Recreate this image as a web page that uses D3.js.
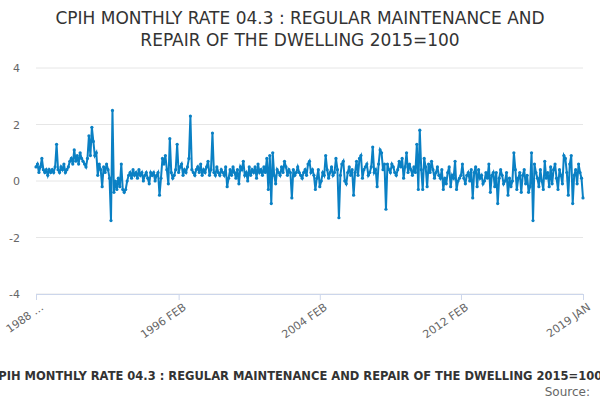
<!DOCTYPE html>
<html>
<head>
<meta charset="utf-8">
<script src="https://cdn.jsdelivr.net/npm/d3@7"></script>
<style>
  body { margin: 0; background: #fff; font-family: "DejaVu Sans", sans-serif; }
</style>
</head>
<body>
<div id="chart"></div>
<script>
// Giá trị theo tháng, từ 1988 JAN đến 2019 JAN
const startYear = 1988;
const values = [
  0.5,0.6,0.3,0.5,0.8,0.4,0.3,0.4,0.2,0.4,0.3,0.4,
  0.3,0.5,1.3,0.4,0.3,0.5,0.4,0.6,0.3,0.4,0.5,0.7,
  0.8,0.6,1.1,0.7,0.9,0.6,1.0,0.8,0.7,0.6,0.5,0.8,
  1.6,0.9,1.9,1.4,0.9,1.0,0.2,0.6,0.4,-0.2,0.5,0.3,
  0.6,0.4,0.1,-1.4,2.5,-0.4,0.0,-0.3,0.1,-0.2,0.6,-0.3,
  -0.4,-0.3,0.0,0.2,0.3,0.1,0.4,0.2,0.3,0.1,0.4,0.2,
  0.3,0.0,0.2,0.3,0.1,-0.1,0.3,0.2,0.3,0.0,0.2,0.3,
  -0.5,0.1,0.8,0.6,0.9,0.4,-0.1,1.5,0.3,0.1,0.2,0.4,
  1.3,0.3,0.5,0.6,0.2,0.4,0.3,0.5,0.8,2.3,0.4,0.3,
  0.2,0.4,0.5,0.3,0.6,0.2,0.4,0.3,0.5,0.7,0.2,0.4,
  1.7,0.3,0.2,0.5,0.3,0.2,0.4,0.3,0.2,0.5,-0.2,0.1,
  0.4,0.2,0.5,0.3,0.1,0.4,-0.1,0.5,0.4,0.7,0.2,0.3,
  0.0,0.5,0.2,0.4,0.3,0.5,0.1,0.6,0.3,0.4,0.2,0.5,
  0.3,0.8,-0.3,0.9,-0.8,1.0,0.2,-0.1,0.4,0.3,0.2,0.5,
  0.3,0.7,0.5,0.2,0.4,0.3,-0.6,0.4,0.2,0.3,0.5,0.3,
  0.2,0.1,0.3,0.4,0.2,0.6,0.7,0.3,0.4,0.2,-0.3,0.1,
  0.4,-0.2,0.0,0.3,0.2,0.9,0.4,0.1,0.3,0.5,0.2,0.3,
  0.8,0.4,-1.3,0.2,0.6,0.7,0.0,-0.1,0.3,0.5,0.2,0.4,
  -0.5,0.3,0.7,0.2,0.8,0.9,0.1,0.4,0.5,0.6,0.2,0.3,
  0.5,1.2,0.3,0.4,-0.2,0.6,1.1,1.0,0.4,0.6,-1.0,0.6,
  0.4,0.3,0.6,0.5,0.3,0.2,0.4,0.7,0.5,0.8,0.1,0.5,
  1.0,0.3,0.6,0.4,0.2,0.5,0.3,1.3,-0.3,1.8,0.4,-0.3,
  0.8,0.5,-0.2,0.6,0.3,0.7,0.4,0.1,0.3,0.5,0.2,0.1,
  0.4,-0.3,0.1,-0.1,0.3,0.5,-0.2,0.2,0.1,0.7,-0.3,0.0,
  0.1,0.2,0.6,0.1,-0.1,0.2,0.3,0.0,0.4,-0.6,0.3,0.5,
  -0.2,0.4,0.1,0.2,-0.1,0.0,0.3,0.1,0.6,-0.4,0.2,0.3,
  -0.2,0.3,-0.8,0.1,0.4,0.2,-0.1,0.0,0.3,-0.5,0.1,-0.2,
  0.0,1.0,0.4,-0.3,0.1,0.3,-0.4,0.2,0.4,-0.1,0.2,-0.4,
  -0.2,1.0,-1.4,0.6,0.3,0.1,-0.2,0.4,0.0,-0.3,0.7,0.1,
  0.3,-0.2,0.5,-0.1,0.4,0.6,0.1,-0.3,0.4,0.2,-0.1,0.9,
  0.8,0.3,-0.5,0.6,0.9,-0.8,0.2,0.4,-0.1,0.6,0.3,0.1,
  -0.6
];
const monthNames = ["JAN","FEB","MAR","APR","MAY","JUN","JUL","AUG","SEP","OCT","NOV","DEC"];
const tickLabels = ["1988 JAN","1996 FEB","2004 FEB","2012 FEB","2019 JAN"];
const yTicks = [-4, -2, 0, 2, 4];

const data = values.map((v, i) => ({
  label: `${startYear + Math.floor(i / 12)} ${monthNames[i % 12]}`,
  value: v
}));

const W = 600, H = 400;
const margin = { top: 68, right: 17, bottom: 106, left: 36 };

const svg = d3.select("#chart").append("svg")
  .attr("width", W).attr("height", H);

// Tiêu đề
svg.append("text")
  .attr("x", W / 2).attr("y", 24)
  .attr("text-anchor", "middle")
  .style("font-size", "17px").style("fill", "#333")
  .text("CPIH MONTHLY RATE 04.3 : REGULAR MAINTENANCE AND");
svg.append("text")
  .attr("x", W / 2).attr("y", 46)
  .attr("text-anchor", "middle")
  .style("font-size", "17px").style("fill", "#333")
  .text("REPAIR OF THE DWELLING 2015=100");

const x = d3.scalePoint()
  .domain(data.map(d => d.label))
  .range([margin.left, W - margin.right]);

const y = d3.scaleLinear()
  .domain([-4, 4])
  .range([H - margin.bottom, margin.top]);

// Lưới ngang
svg.append("g")
  .selectAll("line")
  .data(yTicks)
  .enter().append("line")
  .attr("x1", margin.left).attr("x2", W - margin.right)
  .attr("y1", d => y(d)).attr("y2", d => y(d))
  .attr("stroke", "#e6e6e6");

// Trục Y
svg.append("g")
  .selectAll("text")
  .data(yTicks)
  .enter().append("text")
  .attr("x", 20).attr("y", d => y(d) + 4)
  .attr("text-anchor", "end")
  .style("font-size", "11px").style("fill", "#666")
  .text(d => d);

// Trục X
const xAxis = svg.append("g")
  .attr("transform", `translate(0,${H - margin.bottom})`)
  .call(d3.axisBottom(x).tickValues(tickLabels).tickSize(6).tickPadding(4));
xAxis.select(".domain").attr("stroke", "#ccd6eb");
xAxis.selectAll(".tick line").attr("stroke", "#ccd6eb");
xAxis.selectAll("text")
  .style("font-size", "11px").style("fill", "#666")
  .style("font-family", "DejaVu Sans, sans-serif")
  .attr("text-anchor", "end")
  .attr("dx", "-0.2em").attr("dy", "0.6em")
  .attr("transform", "rotate(-35)");
xAxis.select(".tick text").text("1988 …");

// Đường
const line = d3.line().x(d => x(d.label)).y(d => y(d.value));
svg.append("path")
  .datum(data)
  .attr("fill", "none")
  .attr("stroke", "#0a80c4")
  .attr("stroke-width", 2)
  .attr("d", line);

svg.append("g")
  .selectAll("circle")
  .data(data)
  .enter().append("circle")
  .attr("cx", d => x(d.label))
  .attr("cy", d => y(d.value))
  .attr("r", 1.6)
  .attr("fill", "#0a80c4");

// Tiêu đề trục X và nguồn
svg.append("text")
  .attr("x", W / 2 - 4).attr("y", 380)
  .attr("text-anchor", "middle")
  .style("font-size", "11.5px").style("font-weight", "bold").style("fill", "#333")
  .text("CPIH MONTHLY RATE 04.3 : REGULAR MAINTENANCE AND REPAIR OF THE DWELLING 2015=100");
svg.append("text")
  .attr("x", 590).attr("y", 396)
  .attr("text-anchor", "end")
  .style("font-size", "12px").style("fill", "#666")
  .text("Source:");
</script>
</body>
</html>
